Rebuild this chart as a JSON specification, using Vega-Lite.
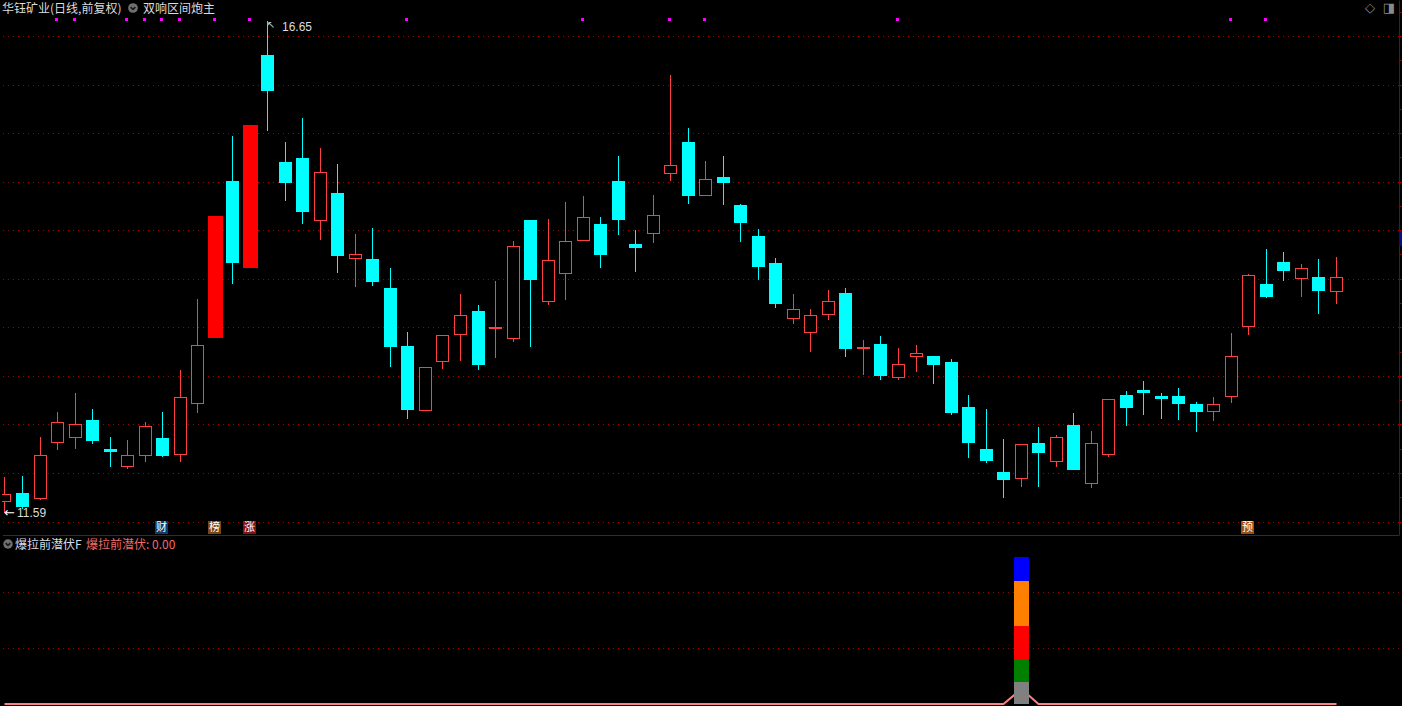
{
  "$schema": "https://vega.github.io/schema/vega-lite/v6.json",
  "background": "#000000",
  "padding": 0,
  "spacing": 0,
  "bounds": "flush",
  "config": {"view": {"stroke": null}, "concat": {"spacing": 0}},
  "resolve": {"scale": {"color": "independent", "fill": "independent"}},
  "datasets": {
    "k": [
      {"i":1,"o":11.70,"h":11.96,"l":11.59,"c":11.78,"t":"up","f":0},
      {"i":2,"o":11.79,"h":11.97,"l":11.63,"c":11.65,"t":"down","f":0},
      {"i":3,"o":11.73,"h":12.37,"l":11.72,"c":12.18,"t":"up","f":0},
      {"i":4,"o":12.31,"h":12.63,"l":12.24,"c":12.52,"t":"up","f":0,"s":1},
      {"i":5,"o":12.36,"h":12.82,"l":12.25,"c":12.50,"t":"up","f":0,"s":1},
      {"i":6,"o":12.55,"h":12.66,"l":12.30,"c":12.33,"t":"down","f":0},
      {"i":7,"o":12.25,"h":12.37,"l":12.06,"c":12.22,"t":"down","f":0},
      {"i":8,"o":12.06,"h":12.34,"l":12.04,"c":12.19,"t":"up","f":0,"s":1},
      {"i":9,"o":12.17,"h":12.52,"l":12.11,"c":12.48,"t":"up","f":0,"s":1},
      {"i":10,"o":12.36,"h":12.63,"l":12.16,"c":12.17,"t":"down","f":0,"s":1,"g":"财"},
      {"i":11,"o":12.19,"h":13.06,"l":12.11,"c":12.78,"t":"up","f":0,"s":1},
      {"i":12,"o":12.71,"h":13.79,"l":12.62,"c":13.32,"t":"up","f":0},
      {"i":13,"o":13.39,"h":14.65,"l":13.39,"c":14.65,"t":"limit","f":0,"s":1,"g":"榜"},
      {"i":14,"o":15.01,"h":15.47,"l":13.95,"c":14.16,"t":"down","f":0},
      {"i":15,"o":14.11,"h":15.58,"l":14.11,"c":15.58,"t":"limit","f":0,"s":1,"g":"涨"},
      {"i":16,"o":16.30,"h":16.65,"l":15.52,"c":15.93,"t":"down","f":0},
      {"i":17,"o":15.20,"h":15.41,"l":14.80,"c":14.99,"t":"down","f":0},
      {"i":18,"o":15.24,"h":15.66,"l":14.56,"c":14.69,"t":"down","f":0},
      {"i":19,"o":14.59,"h":15.35,"l":14.40,"c":15.10,"t":"up","f":0},
      {"i":20,"o":14.88,"h":15.18,"l":14.06,"c":14.23,"t":"down","f":0},
      {"i":21,"o":14.20,"h":14.46,"l":13.91,"c":14.25,"t":"up","f":0},
      {"i":22,"o":14.20,"h":14.52,"l":13.93,"c":13.97,"t":"down","f":0},
      {"i":23,"o":13.90,"h":14.11,"l":13.09,"c":13.30,"t":"down","f":0},
      {"i":24,"o":13.31,"h":13.45,"l":12.56,"c":12.65,"t":"down","f":0,"s":1},
      {"i":25,"o":12.64,"h":13.09,"l":12.64,"c":13.09,"t":"up","f":0},
      {"i":26,"o":13.14,"h":13.42,"l":13.07,"c":13.42,"t":"up","f":0},
      {"i":27,"o":13.42,"h":13.84,"l":13.15,"c":13.63,"t":"up","f":0},
      {"i":28,"o":13.67,"h":13.73,"l":13.06,"c":13.11,"t":"down","f":0},
      {"i":29,"o":13.48,"h":13.98,"l":13.18,"c":13.50,"t":"up","f":0},
      {"i":30,"o":13.38,"h":14.39,"l":13.35,"c":14.34,"t":"up","f":0},
      {"i":31,"o":14.61,"h":14.61,"l":13.30,"c":13.99,"t":"down","f":0},
      {"i":32,"o":13.76,"h":14.62,"l":13.73,"c":14.19,"t":"up","f":0},
      {"i":33,"o":14.05,"h":14.79,"l":13.78,"c":14.39,"t":"up","f":0},
      {"i":34,"o":14.39,"h":14.85,"l":14.39,"c":14.64,"t":"up","f":0,"s":1},
      {"i":35,"o":14.56,"h":14.64,"l":14.11,"c":14.24,"t":"down","f":0},
      {"i":36,"o":15.01,"h":15.26,"l":14.45,"c":14.61,"t":"down","f":0},
      {"i":37,"o":14.36,"h":14.50,"l":14.07,"c":14.32,"t":"down","f":0},
      {"i":38,"o":14.46,"h":14.86,"l":14.37,"c":14.66,"t":"up","f":0},
      {"i":39,"o":15.08,"h":16.10,"l":15.01,"c":15.17,"t":"up","f":0,"s":1},
      {"i":40,"o":15.41,"h":15.55,"l":14.77,"c":14.85,"t":"down","f":0},
      {"i":41,"o":14.85,"h":15.21,"l":14.85,"c":15.03,"t":"up","f":0,"s":1},
      {"i":42,"o":15.05,"h":15.26,"l":14.76,"c":14.99,"t":"down","f":0},
      {"i":43,"o":14.76,"h":14.77,"l":14.38,"c":14.57,"t":"down","f":0},
      {"i":44,"o":14.44,"h":14.51,"l":13.99,"c":14.12,"t":"down","f":0},
      {"i":45,"o":14.16,"h":14.21,"l":13.70,"c":13.74,"t":"down","f":0},
      {"i":46,"o":13.59,"h":13.84,"l":13.53,"c":13.69,"t":"up","f":0},
      {"i":47,"o":13.44,"h":13.69,"l":13.25,"c":13.63,"t":"up","f":0},
      {"i":48,"o":13.63,"h":13.88,"l":13.58,"c":13.77,"t":"up","f":0},
      {"i":49,"o":13.85,"h":13.90,"l":13.19,"c":13.28,"t":"down","f":0},
      {"i":50,"o":13.28,"h":13.37,"l":13.01,"c":13.30,"t":"up","f":0},
      {"i":51,"o":13.33,"h":13.41,"l":12.96,"c":13.00,"t":"down","f":0},
      {"i":52,"o":12.98,"h":13.29,"l":12.96,"c":13.12,"t":"up","f":0,"s":1},
      {"i":53,"o":13.19,"h":13.32,"l":13.04,"c":13.24,"t":"up","f":0},
      {"i":54,"o":13.20,"h":13.20,"l":12.92,"c":13.11,"t":"down","f":0},
      {"i":55,"o":13.14,"h":13.17,"l":12.60,"c":12.62,"t":"down","f":0},
      {"i":56,"o":12.68,"h":12.80,"l":12.15,"c":12.31,"t":"down","f":0},
      {"i":57,"o":12.25,"h":12.66,"l":12.10,"c":12.12,"t":"down","f":0},
      {"i":58,"o":12.01,"h":12.35,"l":11.74,"c":11.93,"t":"down","f":0},
      {"i":59,"o":11.94,"h":12.30,"l":11.86,"c":12.30,"t":"up","f":0.27},
      {"i":60,"o":12.31,"h":12.47,"l":11.86,"c":12.21,"t":"down","f":0},
      {"i":61,"o":12.11,"h":12.39,"l":12.06,"c":12.37,"t":"up","f":0},
      {"i":62,"o":12.49,"h":12.62,"l":12.03,"c":12.03,"t":"down","f":0},
      {"i":63,"o":11.89,"h":12.43,"l":11.85,"c":12.31,"t":"up","f":0},
      {"i":64,"o":12.18,"h":12.76,"l":12.16,"c":12.76,"t":"up","f":0},
      {"i":65,"o":12.80,"h":12.84,"l":12.48,"c":12.67,"t":"down","f":0},
      {"i":66,"o":12.85,"h":12.95,"l":12.60,"c":12.82,"t":"down","f":0},
      {"i":67,"o":12.79,"h":12.82,"l":12.56,"c":12.76,"t":"down","f":0},
      {"i":68,"o":12.79,"h":12.87,"l":12.55,"c":12.71,"t":"down","f":0},
      {"i":69,"o":12.71,"h":12.73,"l":12.42,"c":12.63,"t":"down","f":0},
      {"i":70,"o":12.63,"h":12.78,"l":12.53,"c":12.71,"t":"up","f":0},
      {"i":71,"o":12.78,"h":13.44,"l":12.72,"c":13.20,"t":"up","f":0,"s":1},
      {"i":72,"o":13.50,"h":14.05,"l":13.42,"c":14.04,"t":"up","f":0,"g":"预"},
      {"i":73,"o":13.95,"h":14.31,"l":13.80,"c":13.81,"t":"down","f":0,"s":1},
      {"i":74,"o":14.17,"h":14.28,"l":13.98,"c":14.08,"t":"down","f":0},
      {"i":75,"o":14.00,"h":14.15,"l":13.81,"c":14.11,"t":"up","f":0},
      {"i":76,"o":14.02,"h":14.20,"l":13.64,"c":13.87,"t":"down","f":0},
      {"i":77,"o":13.86,"h":14.22,"l":13.74,"c":14.02,"t":"up","f":0}
    ],
    "seg": [
      {"i":59,"k":1,"s":"gray","v":0.40},
      {"i":59,"k":2,"s":"green","v":0.39},
      {"i":59,"k":3,"s":"red","v":0.60},
      {"i":59,"k":4,"s":"orange","v":0.80},
      {"i":59,"k":5,"s":"blue","v":0.43}
    ],
    "gt": [{"g":11.5},{"g":12},{"g":12.5},{"g":13},{"g":13.5},{"g":14},{"g":14.5},{"g":15},{"g":15.5},{"g":16},{"g":16.5}],
    "gb": [{"g":1},{"g":2}]
  },
  "vconcat": [
    {
      "width": 1397,
      "height": 535,
      "resolve": {"axis": {"y": "independent"}},
      "layer": [
        {
          "data": {"name": "gt"},
          "mark": {"type": "rule", "strokeWidth": 1, "strokeDash": [1,4], "color": "#a00000", "yOffset": 0.5},
          "encoding": {
            "x": {"datum": 0.9155, "type": "quantitative", "scale": {"domain": [0.85845, 80.5959], "nice": false, "zero": false, "round": true, "padding": 0}, "axis": null},
            "x2": {"datum": 80.5959},
            "y": {"field": "g", "type": "quantitative", "scale": {"domain": [11.361, 16.8708], "nice": false, "zero": false, "round": true, "padding": 0},
                  "axis": {"orient": "right", "values": [11.5,12,12.5,13,13.5,14,14.5,15,15.5,16,16.5], "labels": false, "title": null, "domainColor": "#8c0000", "tickColor": "#8c0000", "tickSize": 5, "grid": false}}
          }
        },
        {
          "data": {"name": "k"},
          "mark": {"type": "rule", "strokeWidth": 1, "xOffset": 0.5},
          "encoding": {
            "x": {"field": "i", "type": "quantitative", "scale": {"domain": [0.85845, 80.5959], "nice": false, "zero": false, "round": true, "padding": 0}, "axis": null},
            "y": {"field": "l", "type": "quantitative", "scale": {"domain": [11.361, 16.8708], "nice": false, "zero": false, "round": true, "padding": 0}, "axis": null},
            "y2": {"field": "h"},
            "color": {"field": "t", "type": "nominal", "scale": {"domain": ["up","down","limit"], "range": ["#ff4040","#00ffff","#ff0000"]}, "legend": null}
          }
        },
        {
          "data": {"name": "k"},
          "transform": [{"filter": "datum.t === 'down'"}],
          "mark": {"type": "bar", "width": 13, "xOffset": 0.5, "color": "#00ffff"},
          "encoding": {
            "x": {"field": "i", "type": "quantitative", "scale": {"domain": [0.85845, 80.5959], "nice": false, "zero": false, "round": true, "padding": 0}, "axis": null},
            "y": {"field": "o", "type": "quantitative", "scale": {"domain": [11.361, 16.8708], "nice": false, "zero": false, "round": true, "padding": 0},
                  "axis": {"orient": "right", "values": [11.75,12.25,12.75,13.25,13.75,14.25,14.75,15.25,15.75,16.25,16.75], "labels": false, "title": null, "domain": false, "grid": false, "tickColor": "#8c0000", "tickSize": 3}},
            "y2": {"field": "c"}
          }
        },
        {
          "data": {"name": "k"},
          "transform": [{"filter": "datum.t === 'up' && datum.i > 1"}],
          "mark": {"type": "bar", "width": 13, "xOffset": 0.5, "color": "#ff4040"},
          "encoding": {
            "x": {"field": "i", "type": "quantitative", "scale": {"domain": [0.85845, 80.5959], "nice": false, "zero": false, "round": true, "padding": 0}, "axis": null},
            "y": {"field": "c", "type": "quantitative", "scale": {"domain": [11.361, 16.8708], "nice": false, "zero": false, "round": true, "padding": 0}, "axis": null},
            "y2": {"field": "o"}
          }
        },
        {
          "data": {"name": "k"},
          "transform": [{"filter": "datum.t === 'up' && datum.i > 1"}],
          "mark": {"type": "bar", "width": 11, "xOffset": 0.5, "yOffset": 1, "y2Offset": -1, "color": "#000000"},
          "encoding": {
            "x": {"field": "i", "type": "quantitative", "scale": {"domain": [0.85845, 80.5959], "nice": false, "zero": false, "round": true, "padding": 0}, "axis": null},
            "y": {"field": "c", "type": "quantitative", "scale": {"domain": [11.361, 16.8708], "nice": false, "zero": false, "round": true, "padding": 0}, "axis": null},
            "y2": {"field": "o"}
          }
        },
        {
          "data": {"name": "k"},
          "transform": [{"filter": "datum.i === 1"}],
          "mark": {"type": "rect", "xOffset": -2, "x2Offset": 7, "color": "#ff4040"},
          "encoding": {
            "x": {"field": "i", "type": "quantitative", "scale": {"domain": [0.85845, 80.5959], "nice": false, "zero": false, "round": true, "padding": 0}, "axis": null},
            "x2": {"field": "i"},
            "y": {"field": "c", "type": "quantitative", "scale": {"domain": [11.361, 16.8708], "nice": false, "zero": false, "round": true, "padding": 0}, "axis": null},
            "y2": {"field": "o"}
          }
        },
        {
          "data": {"name": "k"},
          "transform": [{"filter": "datum.i === 1"}],
          "mark": {"type": "rect", "xOffset": -2, "x2Offset": 6, "yOffset": 1, "y2Offset": -1, "color": "#000000"},
          "encoding": {
            "x": {"field": "i", "type": "quantitative", "scale": {"domain": [0.85845, 80.5959], "nice": false, "zero": false, "round": true, "padding": 0}, "axis": null},
            "x2": {"field": "i"},
            "y": {"field": "c", "type": "quantitative", "scale": {"domain": [11.361, 16.8708], "nice": false, "zero": false, "round": true, "padding": 0}, "axis": null},
            "y2": {"field": "o"}
          }
        },
        {
          "data": {"name": "k"},
          "transform": [{"filter": "datum.t === 'limit'"}],
          "mark": {"type": "bar", "width": 15, "xOffset": 0.5, "color": "#ff0000"},
          "encoding": {
            "x": {"field": "i", "type": "quantitative", "scale": {"domain": [0.85845, 80.5959], "nice": false, "zero": false, "round": true, "padding": 0}, "axis": null},
            "y": {"field": "o", "type": "quantitative", "scale": {"domain": [11.361, 16.8708], "nice": false, "zero": false, "round": true, "padding": 0}, "axis": null},
            "y2": {"field": "c"}
          }
        },
        {
          "data": {"name": "k"},
          "transform": [{"filter": "datum.s"}],
          "mark": {"type": "square", "size": 9, "color": "#ff00ff", "opacity": 1, "xOffset": -0.5, "yOffset": 0.5},
          "encoding": {
            "x": {"field": "i", "type": "quantitative", "scale": {"domain": [0.85845, 80.5959], "nice": false, "zero": false, "round": true, "padding": 0}, "axis": null},
            "y": {"datum": 16.67, "type": "quantitative", "scale": {"domain": [11.361, 16.8708], "nice": false, "zero": false, "round": true, "padding": 0}, "axis": null}
          }
        },
        {
          "data": {"name": "k"},
          "transform": [{"filter": "datum.g"}],
          "mark": {"type": "square", "size": 169, "opacity": 1, "xOffset": -0.5, "yOffset": 0.5},
          "encoding": {
            "x": {"field": "i", "type": "quantitative", "scale": {"domain": [0.85845, 80.5959], "nice": false, "zero": false, "round": true, "padding": 0}, "axis": null},
            "y": {"datum": 11.443, "type": "quantitative", "scale": {"domain": [11.361, 16.8708], "nice": false, "zero": false, "round": true, "padding": 0}, "axis": null},
            "fill": {"field": "g", "type": "nominal", "scale": {"domain": ["财","榜","涨","预"], "range": ["#0f3c70","#7a4614","#8c1010","#9a4f16"]}, "legend": null}
          }
        },
        {
          "data": {"name": "k"},
          "transform": [{"filter": "datum.g"}],
          "mark": {"type": "text", "font": "Noto Sans CJK SC", "fontSize": 11, "color": "#ffffff", "xOffset": -0.5, "yOffset": 0.5, "align": "center", "baseline": "middle"},
          "encoding": {
            "x": {"field": "i", "type": "quantitative", "scale": {"domain": [0.85845, 80.5959], "nice": false, "zero": false, "round": true, "padding": 0}, "axis": null},
            "y": {"datum": 11.443, "type": "quantitative", "scale": {"domain": [11.361, 16.8708], "nice": false, "zero": false, "round": true, "padding": 0}, "axis": null},
            "text": {"field": "g"}
          }
        },
        {
          "data": {"name": "k"},
          "transform": [{"filter": "datum.i === 16"}],
          "mark": {"type": "text", "font": "Liberation Sans", "fontSize": 12, "color": "#dcdcdc", "align": "left", "baseline": "middle", "dx": 15, "dy": 6},
          "encoding": {
            "x": {"field": "i", "type": "quantitative", "scale": {"domain": [0.85845, 80.5959], "nice": false, "zero": false, "round": true, "padding": 0}, "axis": null},
            "y": {"field": "h", "type": "quantitative", "scale": {"domain": [11.361, 16.8708], "nice": false, "zero": false, "round": true, "padding": 0}, "axis": null},
            "text": {"field": "h", "type": "quantitative", "format": ".2f"}
          }
        },
        {
          "data": {"name": "k"},
          "transform": [{"filter": "datum.i === 16"}],
          "mark": {"type": "text", "text": "↖", "font": "DejaVu Sans", "fontSize": 10, "color": "#dcdcdc", "align": "left", "baseline": "top", "dx": 0, "dy": -1},
          "encoding": {
            "x": {"field": "i", "type": "quantitative", "scale": {"domain": [0.85845, 80.5959], "nice": false, "zero": false, "round": true, "padding": 0}, "axis": null},
            "y": {"field": "h", "type": "quantitative", "scale": {"domain": [11.361, 16.8708], "nice": false, "zero": false, "round": true, "padding": 0}, "axis": null}
          }
        },
        {
          "data": {"name": "k"},
          "transform": [{"filter": "datum.i === 1"}],
          "mark": {"type": "text", "text": "←", "font": "DejaVu Sans", "fontSize": 13, "color": "#ffffff", "align": "left", "baseline": "middle", "dx": 0},
          "encoding": {
            "x": {"field": "i", "type": "quantitative", "scale": {"domain": [0.85845, 80.5959], "nice": false, "zero": false, "round": true, "padding": 0}, "axis": null},
            "y": {"field": "l", "type": "quantitative", "scale": {"domain": [11.361, 16.8708], "nice": false, "zero": false, "round": true, "padding": 0}, "axis": null}
          }
        },
        {
          "data": {"name": "k"},
          "transform": [{"filter": "datum.i === 1"}],
          "mark": {"type": "text", "font": "Liberation Sans", "fontSize": 12, "color": "#dcdcdc", "align": "left", "baseline": "middle", "dx": 13},
          "encoding": {
            "x": {"field": "i", "type": "quantitative", "scale": {"domain": [0.85845, 80.5959], "nice": false, "zero": false, "round": true, "padding": 0}, "axis": null},
            "y": {"field": "l", "type": "quantitative", "scale": {"domain": [11.361, 16.8708], "nice": false, "zero": false, "round": true, "padding": 0}, "axis": null},
            "text": {"field": "l", "type": "quantitative", "format": ".2f"}
          }
        },
        {
          "data": {"values": [{}]},
          "mark": {"type": "text", "text": "华钰矿业(日线,前复权)", "font": "Noto Sans CJK SC", "fontSize": 12, "color": "#dcdcdc", "align": "left", "baseline": "middle"},
          "encoding": {
            "x": {"datum": 0.85845, "type": "quantitative", "scale": {"domain": [0.85845, 80.5959], "nice": false, "zero": false, "round": true, "padding": 0}, "axis": null},
            "y": {"datum": 16.778, "type": "quantitative", "scale": {"domain": [11.361, 16.8708], "nice": false, "zero": false, "round": true, "padding": 0}, "axis": null}
          }
        },
        {
          "data": {"values": [{}]},
          "mark": {"type": "circle", "size": 95, "color": "#707070", "opacity": 1},
          "encoding": {
            "x": {"datum": 8.364, "type": "quantitative", "scale": {"domain": [0.85845, 80.5959], "nice": false, "zero": false, "round": true, "padding": 0}, "axis": null},
            "y": {"datum": 16.786, "type": "quantitative", "scale": {"domain": [11.361, 16.8708], "nice": false, "zero": false, "round": true, "padding": 0}, "axis": null}
          }
        },
        {
          "data": {"values": [{}]},
          "mark": {"type": "point", "shape": "M-0.8,-0.3L0,0.45L0.8,-0.3", "size": 36, "filled": false, "stroke": "#1a1a1a", "strokeWidth": 1.6, "opacity": 1},
          "encoding": {
            "x": {"datum": 8.364, "type": "quantitative", "scale": {"domain": [0.85845, 80.5959], "nice": false, "zero": false, "round": true, "padding": 0}, "axis": null},
            "y": {"datum": 16.786, "type": "quantitative", "scale": {"domain": [11.361, 16.8708], "nice": false, "zero": false, "round": true, "padding": 0}, "axis": null}
          }
        },
        {
          "data": {"values": [{}]},
          "mark": {"type": "text", "text": "双响区间炮主", "font": "Noto Sans CJK SC", "fontSize": 12, "color": "#dcdcdc", "align": "left", "baseline": "middle"},
          "encoding": {
            "x": {"datum": 8.906, "type": "quantitative", "scale": {"domain": [0.85845, 80.5959], "nice": false, "zero": false, "round": true, "padding": 0}, "axis": null},
            "y": {"datum": 16.778, "type": "quantitative", "scale": {"domain": [11.361, 16.8708], "nice": false, "zero": false, "round": true, "padding": 0}, "axis": null}
          }
        },
        {
          "data": {"values": [{}]},
          "mark": {"type": "text", "text": "◇", "font": "DejaVu Sans", "fontSize": 13, "color": "#8a8a8a", "align": "center", "baseline": "middle"},
          "encoding": {
            "x": {"datum": 78.95, "type": "quantitative", "scale": {"domain": [0.85845, 80.5959], "nice": false, "zero": false, "round": true, "padding": 0}, "axis": null},
            "y": {"datum": 16.7884, "type": "quantitative", "scale": {"domain": [11.361, 16.8708], "nice": false, "zero": false, "round": true, "padding": 0}, "axis": null}
          }
        },
        {
          "data": {"values": [{}]},
          "mark": {"type": "text", "text": "◨", "font": "DejaVu Sans", "fontSize": 13, "color": "#8a8a8a", "align": "center", "baseline": "middle"},
          "encoding": {
            "x": {"datum": 80.0, "type": "quantitative", "scale": {"domain": [0.85845, 80.5959], "nice": false, "zero": false, "round": true, "padding": 0}, "axis": null},
            "y": {"datum": 16.7884, "type": "quantitative", "scale": {"domain": [11.361, 16.8708], "nice": false, "zero": false, "round": true, "padding": 0}, "axis": null}
          }
        },
        {
          "data": {"values": [{}]},
          "mark": {"type": "rect", "color": "#0c0c8a"},
          "encoding": {
            "x": {"datum": 80.62, "type": "quantitative", "scale": {"domain": [0.85845, 80.5959], "nice": false, "zero": false, "round": true, "padding": 0}, "axis": null},
            "x2": {"datum": 82.5},
            "y": {"datum": 14.495, "type": "quantitative", "scale": {"domain": [11.361, 16.8708], "nice": false, "zero": false, "round": true, "padding": 0}, "axis": null},
            "y2": {"datum": 14.337}
          }
        }
      ]
    },
    {
      "width": 1397,
      "height": 171,
      "layer": [
        {
          "data": {"name": "gb"},
          "mark": {"type": "rule", "strokeWidth": 1, "strokeDash": [1,4], "color": "#a00000", "yOffset": 0.5},
          "encoding": {
            "x": {"datum": 0.9155, "type": "quantitative", "scale": {"domain": [0.85845, 80.5959], "nice": false, "zero": false, "round": true, "padding": 0}, "axis": null},
            "x2": {"datum": 80.5959},
            "y": {"field": "g", "type": "quantitative", "scale": {"domain": [-0.0301, 3.0018], "nice": false, "zero": false, "round": true, "padding": 0},
                  "axis": {"orient": "right", "values": [1, 2], "labels": false, "title": null, "domainColor": "#8c0000", "tickColor": "#8c0000", "tickSize": 5, "grid": false}}
          }
        },
        {
          "data": {"values": [{}]},
          "mark": {"type": "rule", "strokeWidth": 1, "color": "#9a0000", "yOffset": 0.5},
          "encoding": {
            "x": {"datum": 0.9155, "type": "quantitative", "scale": {"domain": [0.85845, 80.5959], "nice": false, "zero": false, "round": true, "padding": 0}, "axis": null},
            "x2": {"datum": 80.62},
            "y": {"datum": 3.0018, "type": "quantitative", "scale": {"domain": [-0.0301, 3.0018], "nice": false, "zero": false, "round": true, "padding": 0}, "axis": null}
          }
        },
        {
          "data": {"name": "k"},
          "mark": {"type": "line", "color": "#ff8080", "strokeWidth": 2, "xOffset": 0.5},
          "encoding": {
            "x": {"field": "i", "type": "quantitative", "scale": {"domain": [0.85845, 80.5959], "nice": false, "zero": false, "round": true, "padding": 0}, "axis": null},
            "y": {"field": "f", "type": "quantitative", "scale": {"domain": [-0.0301, 3.0018], "nice": false, "zero": false, "round": true, "padding": 0}, "axis": null}
          }
        },
        {
          "data": {"name": "seg"},
          "mark": {"type": "bar", "width": 15, "xOffset": 0.5, "orient": "vertical"},
          "encoding": {
            "x": {"field": "i", "type": "quantitative", "scale": {"domain": [0.85845, 80.5959], "nice": false, "zero": false, "round": true, "padding": 0}, "axis": null},
            "y": {"field": "v", "type": "quantitative", "stack": "zero", "scale": {"domain": [-0.0301, 3.0018], "nice": false, "zero": false, "round": true, "padding": 0}, "axis": null},
            "color": {"field": "s", "type": "nominal", "scale": {"domain": ["gray","green","red","orange","blue"], "range": ["#808080","#008000","#ff0000","#ff8000","#0000ff"]}, "legend": null},
            "order": {"field": "k", "type": "quantitative"}
          }
        },
        {
          "data": {"values": [{}]},
          "mark": {"type": "circle", "size": 90, "color": "#707070", "opacity": 1},
          "encoding": {
            "x": {"datum": 1.1724, "type": "quantitative", "scale": {"domain": [0.85845, 80.5959], "nice": false, "zero": false, "round": true, "padding": 0}, "axis": null},
            "y": {"datum": 2.842, "type": "quantitative", "scale": {"domain": [-0.0301, 3.0018], "nice": false, "zero": false, "round": true, "padding": 0}, "axis": null}
          }
        },
        {
          "data": {"values": [{}]},
          "mark": {"type": "point", "shape": "M-0.8,-0.3L0,0.45L0.8,-0.3", "size": 36, "filled": false, "stroke": "#1a1a1a", "strokeWidth": 1.6, "opacity": 1},
          "encoding": {
            "x": {"datum": 1.1724, "type": "quantitative", "scale": {"domain": [0.85845, 80.5959], "nice": false, "zero": false, "round": true, "padding": 0}, "axis": null},
            "y": {"datum": 2.842, "type": "quantitative", "scale": {"domain": [-0.0301, 3.0018], "nice": false, "zero": false, "round": true, "padding": 0}, "axis": null}
          }
        },
        {
          "data": {"values": [{}]},
          "mark": {"type": "text", "text": "爆拉前潜伏F", "font": "Noto Sans CJK SC", "fontSize": 12, "color": "#d8dce8", "align": "left", "baseline": "middle"},
          "encoding": {
            "x": {"datum": 1.6005, "type": "quantitative", "scale": {"domain": [0.85845, 80.5959], "nice": false, "zero": false, "round": true, "padding": 0}, "axis": null},
            "y": {"datum": 2.825, "type": "quantitative", "scale": {"domain": [-0.0301, 3.0018], "nice": false, "zero": false, "round": true, "padding": 0}, "axis": null}
          }
        },
        {
          "data": {"values": [{}]},
          "mark": {"type": "text", "text": "爆拉前潜伏: 0.00", "font": "Noto Sans CJK SC", "fontSize": 12, "color": "#f06a6a", "align": "left", "baseline": "middle"},
          "encoding": {
            "x": {"datum": 5.653, "type": "quantitative", "scale": {"domain": [0.85845, 80.5959], "nice": false, "zero": false, "round": true, "padding": 0}, "axis": null},
            "y": {"datum": 2.825, "type": "quantitative", "scale": {"domain": [-0.0301, 3.0018], "nice": false, "zero": false, "round": true, "padding": 0}, "axis": null}
          }
        }
      ]
    }
  ]
}
